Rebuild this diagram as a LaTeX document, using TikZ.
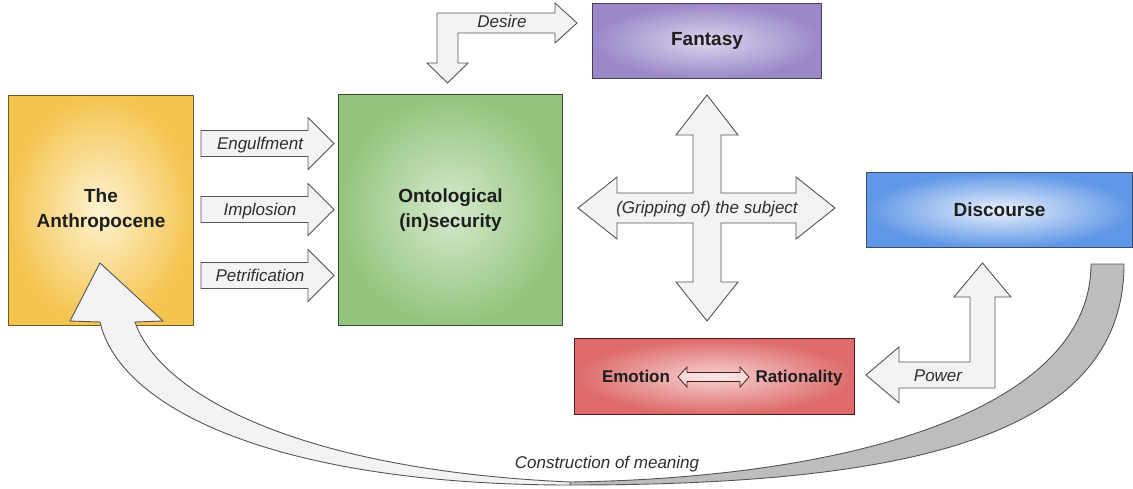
\documentclass[tikz,border=0pt]{standalone}
\usepackage{fontspec}
\setmainfont{Liberation Sans}
\definecolor{arrowfill}{HTML}{F3F3F3}
\definecolor{arrowline}{HTML}{555555}
\definecolor{backgrey}{HTML}{BDBDBD}
\definecolor{txt}{HTML}{1E1E1E}
\definecolor{ltxt}{HTML}{2E2E2E}
\definecolor{anthO}{HTML}{F5C44F}
\definecolor{anthI}{HTML}{FDF3D3}
\definecolor{anthD}{HTML}{6E5A2C}
\definecolor{ontoO}{HTML}{93C47D}
\definecolor{ontoI}{HTML}{D5EACD}
\definecolor{ontoD}{HTML}{3A4D32}
\definecolor{fantO}{HTML}{9A88C8}
\definecolor{fantI}{HTML}{DCD5EC}
\definecolor{fantD}{HTML}{44405A}
\definecolor{discO}{HTML}{6097E6}
\definecolor{discI}{HTML}{EAF1FD}
\definecolor{discD}{HTML}{3C4B66}
\definecolor{emoO}{HTML}{DE6A6A}
\definecolor{emoI}{HTML}{F6D2D2}
\definecolor{emoD}{HTML}{4A1C1C}
\tikzset{
  box/.style n args={3}{draw=#1, inner color=#2, outer color=#3, line width=1pt,
    rectangle, anchor=north west, align=center, text=txt,
    font=\bfseries\fontsize{19}{25}\selectfont},
  blk/.style={draw=arrowline, fill=arrowfill, line width=0.9pt, line join=miter},
  lbl/.style={font=\itshape\fontsize{17}{20}\selectfont, text=ltxt, inner sep=0pt,
    text height=15.4pt, text depth=3.6pt},
  smallbold/.style={font=\bfseries\fontsize{17}{20}\selectfont, text=txt, inner sep=0pt,
    text height=15.4pt, text depth=3.6pt}
}
\begin{document}
\begin{tikzpicture}[x=1pt,y=-1pt]
\useasboundingbox (0,0) rectangle (1133,488);

% boxes
\node[box={anthD}{anthI}{anthO}, minimum width=185pt, minimum height=230pt] (anth) at (8,95) {The\\Anthropocene};
\node[box={ontoD}{ontoI}{ontoO}, minimum width=224pt, minimum height=231pt] (onto) at (338,94) {Ontological\\(in)security};
\node[box={fantD}{fantI}{fantO}, minimum width=229pt, minimum height=75pt] (fant) at (592,3) {Fantasy};
\node[box={discD}{discI}{discO}, minimum width=266pt, minimum height=75pt] (disc) at (866,172) {Discourse};
\node[box={emoD}{emoI}{emoO}, minimum width=280pt, minimum height=76pt] (emo) at (574,338) {};
\node[smallbold] (emotxt) at (636,377) {Emotion};
\node[smallbold] (rattxt) at (799,377) {Rationality};
% small double arrow inside emotion box
\path[draw=emoD, fill=white, fill opacity=0.45, line width=0.8pt]
  (678,377) -- (687,367) -- (687,372.5) -- (740,372.5) -- (740,367) -- (749,377)
  -- (740,387) -- (740,381.5) -- (687,381.5) -- (687,387) -- cycle;

% three horizontal arrows
\foreach \c/\t/\n in {143.5/Engulfment/eng, 209.5/Implosion/imp, 275.5/Petrification/pet}{
  \path[blk] (201,\c-13) -- (308,\c-13) -- (308,\c-26) -- (334,\c) -- (308,\c+26)
    -- (308,\c+13) -- (201,\c+13) -- cycle;
  \node[lbl] (\n) at (260,\c) {\t};
}

% Desire bent arrow
\path[blk] (437,13) -- (555,13) -- (555,3) -- (577,23) -- (555,43) -- (555,33)
  -- (458,33) -- (458,63) -- (468,63) -- (447.5,83) -- (427,63) -- (437,63) -- cycle;
\node[lbl] (desire) at (502,22) {Desire};

% four-way cross
\path[blk] (693,135) -- (676,135) -- (707,95) -- (738,135) -- (721,135) -- (721,193)
  -- (796,193) -- (796,177) -- (835,208) -- (796,239) -- (796,223) -- (721,223)
  -- (721,282) -- (738,282) -- (707,321) -- (676,282) -- (693,282) -- (693,223)
  -- (617,223) -- (617,239) -- (578,208) -- (617,177) -- (617,193) -- (693,193) -- cycle;
\node[lbl] (grip) at (707,208) {(Gripping of) the subject};

% Power bent arrow
\path[blk] (995,388) -- (899,388) -- (899,403) -- (866,375) -- (899,347) -- (899,362)
  -- (970,362) -- (970,297) -- (954,297) -- (982.5,263) -- (1011,297) -- (995,297) -- cycle;
\node[lbl] (power) at (938,376) {Power};

% curved arrow: grey back part
\path[draw=arrowline, fill=backgrey, line width=0.9pt]
  (1124,264) .. controls (1124,440) and (900,485) .. (570,485)
  -- (570,482) .. controls (850,478) and (1091,410) .. (1091,264) -- cycle;
% curved arrow: light front part with head
\path[blk]
  (570,485) .. controls (280,485) and (120,410) .. (100,322)
  -- (70,321) -- (100,263) -- (163,321) -- (135,322)
  .. controls (160,395) and (300,470) .. (570,482) -- cycle;
\node[lbl] (constr) at (607,463) {Construction of meaning};
\end{tikzpicture}
\end{document}
